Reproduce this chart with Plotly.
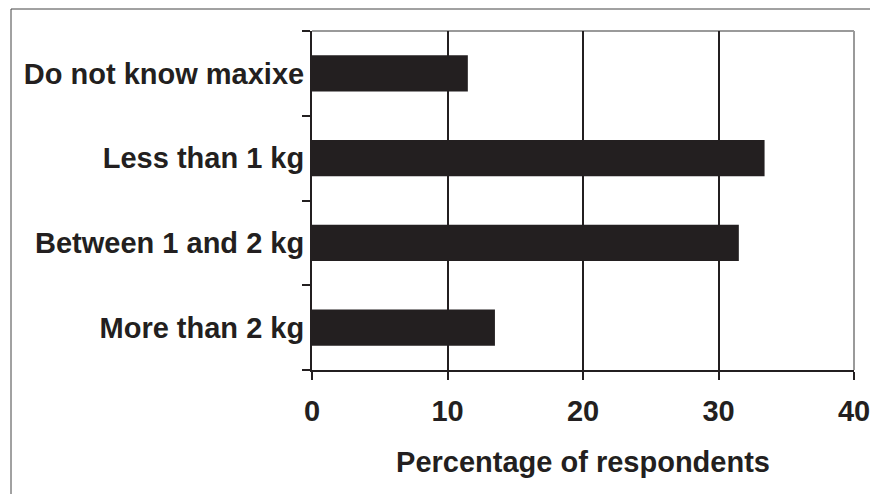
import plotly.graph_objects as go

categories = ["Do not know maxixe", "Less than 1 kg", "Between 1 and 2 kg", "More than 2 kg"]
percentages = [11.5, 33.4, 31.5, 13.5]
x_ticks = [0, 10, 20, 30, 40]
x_title = "Percentage of respondents"

W, H = 870, 494
L, R, T, B = 312, 16, 31, 124
pw, ph = W - L - R, H - T - B

def px_x(p):
    return (p - L) / pw

def px_y(p):
    return (H - B - p) / ph

ink = "#231f20"
font = dict(family="Liberation Sans, Arial, sans-serif", size=29, color=ink, weight="bold")

fig = go.Figure(go.Bar(
    x=percentages, y=categories, orientation="h",
    marker=dict(color=ink, line=dict(width=0)),
))

fig.update_layout(
    width=W, height=H,
    margin=dict(l=L, r=R, t=T, b=B, autoexpand=False),
    paper_bgcolor="white", plot_bgcolor="white",
    bargap=0.575,
    showlegend=False,
    font=font,
)
fig.update_xaxes(
    range=[0, 40], tickvals=x_ticks, ticktext=[str(v) for v in x_ticks],
    showgrid=True, gridcolor=ink, gridwidth=2,
    showline=True, linecolor=ink, linewidth=2,
    ticks="outside", ticklen=8, tickwidth=2, tickcolor=ink,
    zeroline=False,
    automargin=False,
    ticklabeloverflow="allow",
    ticklabelstandoff=6,
    tickfont=dict(size=29, weight="bold"),
    title=dict(text=x_title, font=dict(size=29, weight="bold"), standoff=26),
)
fig.update_yaxes(
    categoryorder="array", categoryarray=categories[::-1],
    showgrid=False,
    showline=True, linecolor=ink, linewidth=2,
    ticks="outside", ticklen=8, tickwidth=2, tickcolor=ink,
    tickson="boundaries",
    automargin=False,
    tickfont=dict(size=29, weight="bold"),
)

# gray frame on top and right of the plot area
gray = "#9a9a9a"
fig.add_shape(type="line", xref="paper", yref="paper", x0=0, x1=1, y0=1, y1=1,
              line=dict(color=gray, width=2), layer="below")
fig.add_shape(type="line", xref="paper", yref="paper", x0=1, x1=1, y0=0, y1=1,
              line=dict(color=gray, width=2), layer="below")

# outer figure frame (top and left)
frame = "#444444"
fig.add_shape(type="line", xref="paper", yref="paper",
              x0=px_x(11), x1=px_x(W + 5), y0=px_y(9), y1=px_y(9),
              line=dict(color=frame, width=1))
fig.add_shape(type="line", xref="paper", yref="paper",
              x0=px_x(11), x1=px_x(11), y0=px_y(9), y1=px_y(H + 5),
              line=dict(color=frame, width=1))

fig.write_html("out.html",
               config={"displayModeBar": False},
               post_script="document.body.style.margin='0';document.body.style.overflow='hidden';")
